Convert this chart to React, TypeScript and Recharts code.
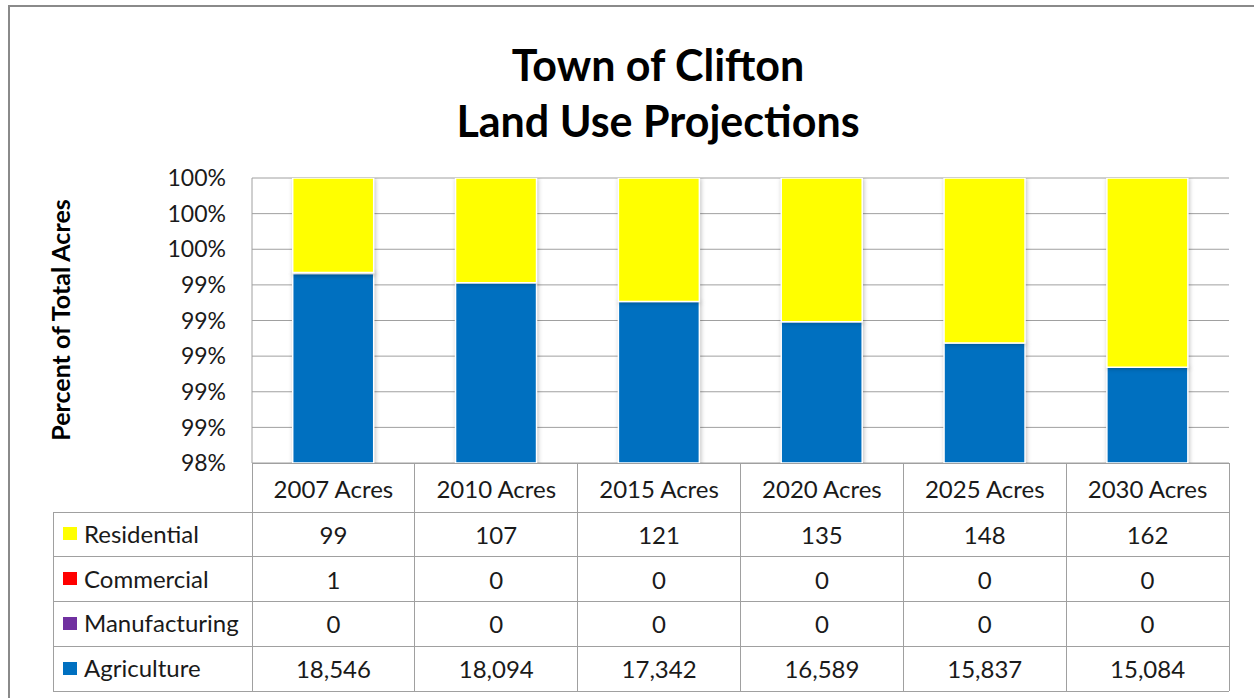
import React from "react";
import { BarChart, Bar, XAxis, YAxis, CartesianGrid } from "recharts";

const categories = ["2007 Acres", "2010 Acres", "2015 Acres", "2020 Acres", "2025 Acres", "2030 Acres"];
const residential = [99, 107, 121, 135, 148, 162];
const commercial = [1, 0, 0, 0, 0, 0];
const manufacturing = [0, 0, 0, 0, 0, 0];
const agriculture = [18546, 18094, 17342, 16589, 15837, 15084];
const yTicks = [98.4, 98.6, 98.8, 99.0, 99.2, 99.4, 99.6, 99.8, 100];

const COLORS = { res: "#FFFF00", com: "#FF0000", man: "#7030A0", agr: "#0070C0" };
const FONT = "Lato, 'Noto Sans', sans-serif";
const LINE = "#a0a0a0";

const tableRows = [
  { name: "Residential", values: residential, color: COLORS.res },
  { name: "Commercial", values: commercial, color: COLORS.com },
  { name: "Manufacturing", values: manufacturing, color: COLORS.man },
  { name: "Agriculture", values: agriculture, color: COLORS.agr },
];

const data = categories.map((cat, i) => {
  const total = agriculture[i] + manufacturing[i] + commercial[i] + residential[i];
  return {
    cat,
    agr: (agriculture[i] / total) * 100,
    man: (manufacturing[i] / total) * 100,
    com: (commercial[i] / total) * 100,
    res: (residential[i] / total) * 100,
  };
});

const HEADER_H = 49;
const ROW_H = 44.75;
const LEGEND_LEFT = 53;
const TFS = 24;

function TableTick(props: any) {
  const { x, payload } = props;
  const half = payload && payload.offset ? payload.offset : 81.4;
  const i = categories.indexOf(payload.value);
  const left = x - half;
  const right = x + half;
  const top = props.y - 8; // tickSize (6) + tickMargin (2)
  const bottom = top + HEADER_H + ROW_H * tableRows.length;
  const els: any[] = [];
  els.push(<line key="t" x1={left} x2={right} y1={top} y2={top} stroke={LINE} />);
  els.push(<line key="l" x1={left} x2={left} y1={top} y2={bottom} stroke={LINE} />);
  els.push(<line key="r" x1={right} x2={right} y1={top} y2={bottom} stroke={LINE} />);
  els.push(
    <text key="h" x={x} y={top + HEADER_H / 2 + 1} textAnchor="middle" dominantBaseline="central"
      fontFamily={FONT} fontSize={TFS} fill="#1a1a1a">{payload.value}</text>
  );
  tableRows.forEach((row, r) => {
    const ry = top + HEADER_H + r * ROW_H;
    els.push(<line key={"hl" + r} x1={left} x2={right} y1={ry} y2={ry} stroke={LINE} />);
    els.push(
      <text key={"v" + r} x={x} y={ry + ROW_H / 2} textAnchor="middle" dominantBaseline="central"
        fontFamily={FONT} fontSize={TFS} fill="#1a1a1a">{row.values[i].toLocaleString("en-US")}</text>
    );
    if (i === 0) {
      els.push(<line key={"lg" + r} x1={LEGEND_LEFT} x2={left} y1={ry} y2={ry} stroke={LINE} />);
      els.push(<rect key={"sq" + r} x={63} y={ry + ROW_H / 2 - 7} width={14} height={13} fill={row.color} />);
      els.push(
        <text key={"n" + r} x={84} y={ry + ROW_H / 2 - 1} dominantBaseline="central"
          fontFamily={FONT} fontSize={TFS} fill="#1a1a1a">{row.name}</text>
      );
    }
  });
  els.push(<line key="b" x1={left} x2={right} y1={bottom} y2={bottom} stroke={LINE} />);
  if (i === 0) {
    els.push(<line key="lb" x1={LEGEND_LEFT} x2={left} y1={bottom} y2={bottom} stroke={LINE} />);
    els.push(<line key="ll" x1={LEGEND_LEFT} x2={LEGEND_LEFT} y1={top + HEADER_H} y2={bottom} stroke={LINE} />);
  }
  return <g shapeRendering="crispEdges">{els}</g>;
}

const css = `.recharts-bar-rectangle path { filter: drop-shadow(1px 1px 2px rgba(0,0,0,0.25)); }`;

export default function App() {
  return (
    <div style={{ position: "fixed", left: 0, top: 0, width: 1254, height: 698, overflow: "hidden", background: "#fff" }}>
      <style>{css}</style>
      <div style={{ position: "absolute", left: 8, top: 5, width: 1400, height: 900, border: "2px solid #8a8a8a", boxSizing: "border-box" }} />
      <div style={{ position: "absolute", left: 0, top: 0 }}>
        <BarChart width={1254} height={698} data={data} margin={{ top: 178, right: 25, bottom: 5, left: 172 }} barCategoryGap="25%">
          <CartesianGrid horizontal vertical={false} stroke={LINE} />
          <XAxis dataKey="cat" axisLine={false} tickLine={false} height={230} interval={0} tick={<TableTick />} />
          <YAxis type="number" domain={[98.4, 100]} allowDataOverflow ticks={yTicks} interval={0} width={80}
            tickLine={false} tickSize={0} tickMargin={26} axisLine={{ stroke: LINE }}
            tickFormatter={(v: number) => Math.round(v) + "%"}
            tick={{ fontFamily: FONT, fontSize: 23, fill: "#1a1a1a" }} />
          <Bar dataKey="agr" stackId="a" fill={COLORS.agr} stroke="#ffffff" strokeWidth={1.5} isAnimationActive={false} />
          <Bar dataKey="man" stackId="a" fill={COLORS.man} stroke="#ffffff" strokeWidth={1.5} isAnimationActive={false} />
          <Bar dataKey="com" stackId="a" fill={COLORS.com} stroke="#ffffff" strokeWidth={1.5} isAnimationActive={false} />
          <Bar dataKey="res" stackId="a" fill={COLORS.res} stroke="#ffffff" strokeWidth={1.5} isAnimationActive={false} />
        </BarChart>
      </div>
      <svg width={1254} height={698} style={{ position: "absolute", left: 0, top: 0, pointerEvents: "none" }}>
        <text x={658} y={81} textAnchor="middle" fontFamily={FONT} fontWeight="bold" fontSize={43} fill="#000">Town of Clifton</text>
        <text x={658} y={137} textAnchor="middle" fontFamily={FONT} fontWeight="bold" fontSize={43} fill="#000">Land Use Projections</text>
        <text x={60} y={320} transform="rotate(-90 60 320)" textAnchor="middle" dominantBaseline="central"
          fontFamily={FONT} fontWeight="bold" fontSize={25} fill="#000">Percent of Total Acres</text>
      </svg>
    </div>
  );
}
